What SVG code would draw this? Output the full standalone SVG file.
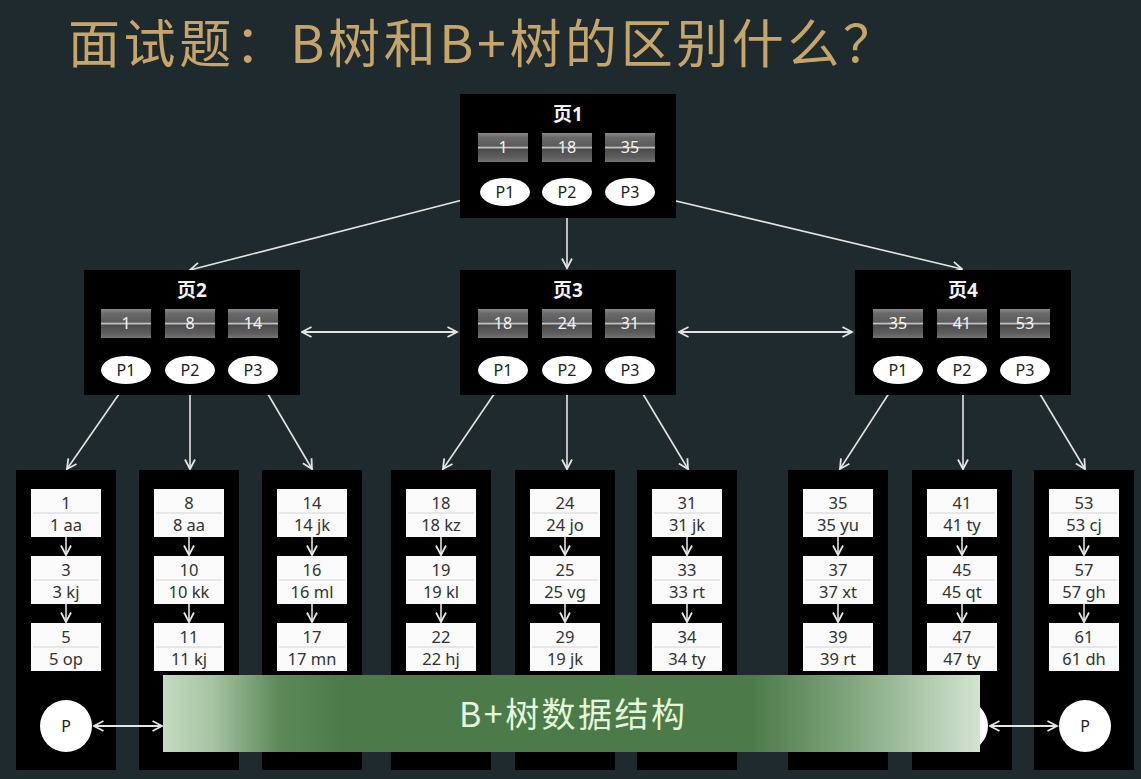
<svg xmlns="http://www.w3.org/2000/svg" width="1141" height="779" viewBox="0 0 1141 779">
<style>
.bg{fill:#1e2a2d}
.page{fill:#000}
.ptitle{font-family:"Noto Sans","Noto Sans CJK SC",sans-serif;font-size:19px;fill:#f2f2f2;text-anchor:middle;font-weight:bold}
.key{fill:url(#keyGrad)}
.keyt{font-family:"Noto Sans",sans-serif;font-size:16px;fill:#f4f4f4;text-anchor:middle}
.ell{fill:#fff}
.ellt{font-family:"Noto Sans",sans-serif;font-size:16px;fill:#222;text-anchor:middle}
.col{fill:#000}
.rec{fill:#fafafa}
.sep{stroke:#d4d4d4;stroke-width:1}
.rect{font-family:"Noto Sans",sans-serif;font-size:16.5px;fill:#333;text-anchor:middle}
.arr{stroke:#e4e4e4;stroke-width:1.6;fill:none;marker-end:url(#ah)}
.darr{stroke:#e4e4e4;stroke-width:2.2;fill:none;marker-end:url(#ah);marker-start:url(#ah)}
.circ{fill:#fff}
</style>
<defs>
<linearGradient id="keyGrad" x1="0" y1="0" x2="0" y2="1">
<stop offset="0" stop-color="#8a8a8a"/>
<stop offset="0.15" stop-color="#6a6a6a"/>
<stop offset="0.45" stop-color="#5a5a5a"/>
<stop offset="0.5" stop-color="#c4c4c4"/>
<stop offset="0.56" stop-color="#4c4c4c"/>
<stop offset="0.85" stop-color="#5e5e5e"/>
<stop offset="1" stop-color="#767676"/>
</linearGradient>
<linearGradient id="banGrad" x1="0" y1="0" x2="1" y2="0">
<stop offset="0" stop-color="#c4dac2"/>
<stop offset="0.06" stop-color="#a6c4a3"/>
<stop offset="0.14" stop-color="#5e8a5a"/>
<stop offset="0.22" stop-color="#4c7b49"/>
<stop offset="0.72" stop-color="#4c7b49"/>
<stop offset="0.84" stop-color="#7fa57c"/>
<stop offset="1" stop-color="#d2e4d0"/>
</linearGradient>
<marker id="ah" viewBox="0 0 12 12" refX="10.5" refY="6" markerWidth="12" markerHeight="12" markerUnits="userSpaceOnUse" orient="auto-start-reverse">
<path d="M1,1 L10.5,6 L1,11" stroke="#e4e4e4" stroke-width="1.8" fill="none"/>
</marker>
</defs>
<rect class="bg" x="0" y="0" width="1141" height="779"/>
<text x="68" y="63" font-family="'Noto Sans CJK SC','Noto Sans',sans-serif" font-size="52" fill="#c6a56b" textLength="827" lengthAdjust="spacing">面试题：B树和B+树的区别什么？</text>

<g id="connectors">
<line class="arr" x1="478" y1="196" x2="190" y2="270"/>
<line class="arr" x1="567" y1="206" x2="567" y2="268"/>
<line class="arr" x1="655" y1="196" x2="962" y2="269"/>
<line class="darr" x1="302" y1="332" x2="457" y2="332"/>
<line class="darr" x1="679" y1="332" x2="852" y2="332"/>
<line class="arr" x1="126" y1="384" x2="67" y2="469"/>
<line class="arr" x1="190" y1="386" x2="190" y2="469"/>
<line class="arr" x1="262" y1="384" x2="312" y2="469"/>
<line class="arr" x1="501" y1="384" x2="443" y2="469"/>
<line class="arr" x1="567" y1="386" x2="567" y2="469"/>
<line class="arr" x1="637" y1="384" x2="688" y2="469"/>
<line class="arr" x1="895" y1="384" x2="840" y2="469"/>
<line class="arr" x1="963" y1="386" x2="963" y2="469"/>
<line class="arr" x1="1034" y1="384" x2="1085" y2="469"/>
</g>

<g id="page1">
<rect class="page" x="460" y="94" width="216" height="124"/>
<text class="ptitle" x="568" y="121">页1</text>
<rect class="key" x="478" y="133" width="50" height="29"/><text class="keyt" x="503" y="153">1</text>
<rect class="key" x="542" y="133" width="50" height="29"/><text class="keyt" x="567" y="153">18</text>
<rect class="key" x="605" y="133" width="50" height="29"/><text class="keyt" x="630" y="153">35</text>
<ellipse class="ell" cx="505" cy="192" rx="25" ry="14"/><text class="ellt" x="505" y="198">P1</text>
<ellipse class="ell" cx="567" cy="192" rx="25" ry="14"/><text class="ellt" x="567" y="198">P2</text>
<ellipse class="ell" cx="630" cy="192" rx="25" ry="14"/><text class="ellt" x="630" y="198">P3</text>
</g>

<g id="page2">
<rect class="page" x="84" y="270" width="216" height="125"/>
<text class="ptitle" x="192" y="297">页2</text>
<rect class="key" x="101" y="309" width="50" height="29"/><text class="keyt" x="126" y="329">1</text>
<rect class="key" x="165" y="309" width="50" height="29"/><text class="keyt" x="190" y="329">8</text>
<rect class="key" x="228" y="309" width="50" height="29"/><text class="keyt" x="253" y="329">14</text>
<ellipse class="ell" cx="126" cy="370" rx="25" ry="14"/><text class="ellt" x="126" y="376">P1</text>
<ellipse class="ell" cx="190" cy="370" rx="25" ry="14"/><text class="ellt" x="190" y="376">P2</text>
<ellipse class="ell" cx="253" cy="370" rx="25" ry="14"/><text class="ellt" x="253" y="376">P3</text>
</g>

<g id="page3">
<rect class="page" x="460" y="270" width="216" height="125"/>
<text class="ptitle" x="568" y="297">页3</text>
<rect class="key" x="478" y="309" width="50" height="29"/><text class="keyt" x="503" y="329">18</text>
<rect class="key" x="542" y="309" width="50" height="29"/><text class="keyt" x="567" y="329">24</text>
<rect class="key" x="605" y="309" width="50" height="29"/><text class="keyt" x="630" y="329">31</text>
<ellipse class="ell" cx="503" cy="370" rx="25" ry="14"/><text class="ellt" x="503" y="376">P1</text>
<ellipse class="ell" cx="567" cy="370" rx="25" ry="14"/><text class="ellt" x="567" y="376">P2</text>
<ellipse class="ell" cx="630" cy="370" rx="25" ry="14"/><text class="ellt" x="630" y="376">P3</text>
</g>

<g id="page4">
<rect class="page" x="855" y="270" width="216" height="125"/>
<text class="ptitle" x="963" y="297">页4</text>
<rect class="key" x="873" y="309" width="50" height="29"/><text class="keyt" x="898" y="329">35</text>
<rect class="key" x="937" y="309" width="50" height="29"/><text class="keyt" x="962" y="329">41</text>
<rect class="key" x="1000" y="309" width="50" height="29"/><text class="keyt" x="1025" y="329">53</text>
<ellipse class="ell" cx="898" cy="370" rx="25" ry="14"/><text class="ellt" x="898" y="376">P1</text>
<ellipse class="ell" cx="962" cy="370" rx="25" ry="14"/><text class="ellt" x="962" y="376">P2</text>
<ellipse class="ell" cx="1025" cy="370" rx="25" ry="14"/><text class="ellt" x="1025" y="376">P3</text>
</g>

<g id="leaf1">
<rect class="col" x="16" y="470" width="100" height="300"/>
<rect class="rec" x="31" y="489" width="70" height="48"/><line class="sep" x1="33" y1="513" x2="99" y2="513"/><text class="rect" x="66" y="509">1</text><text class="rect" x="66" y="531">1 aa</text>
<rect class="rec" x="31" y="556" width="70" height="48"/><line class="sep" x1="33" y1="580" x2="99" y2="580"/><text class="rect" x="66" y="576">3</text><text class="rect" x="66" y="598">3 kj</text>
<rect class="rec" x="31" y="623" width="70" height="48"/><line class="sep" x1="33" y1="647" x2="99" y2="647"/><text class="rect" x="66" y="643">5</text><text class="rect" x="66" y="665">5 op</text>
<line class="arr" x1="66" y1="537" x2="66" y2="555"/><line class="arr" x1="66" y1="604" x2="66" y2="622"/>
<circle class="circ" cx="66" cy="726" r="26"/><text class="ellt" x="66" y="732">P</text>
</g>

<g id="leaf2">
<rect class="col" x="139" y="470" width="100" height="300"/>
<rect class="rec" x="154" y="489" width="70" height="48"/><line class="sep" x1="156" y1="513" x2="222" y2="513"/><text class="rect" x="189" y="509">8</text><text class="rect" x="189" y="531">8 aa</text>
<rect class="rec" x="154" y="556" width="70" height="48"/><line class="sep" x1="156" y1="580" x2="222" y2="580"/><text class="rect" x="189" y="576">10</text><text class="rect" x="189" y="598">10 kk</text>
<rect class="rec" x="154" y="623" width="70" height="48"/><line class="sep" x1="156" y1="647" x2="222" y2="647"/><text class="rect" x="189" y="643">11</text><text class="rect" x="189" y="665">11 kj</text>
<line class="arr" x1="189" y1="537" x2="189" y2="555"/><line class="arr" x1="189" y1="604" x2="189" y2="622"/>
</g>

<g id="leaf3">
<rect class="col" x="262" y="470" width="100" height="300"/>
<rect class="rec" x="277" y="489" width="70" height="48"/><line class="sep" x1="279" y1="513" x2="345" y2="513"/><text class="rect" x="312" y="509">14</text><text class="rect" x="312" y="531">14 jk</text>
<rect class="rec" x="277" y="556" width="70" height="48"/><line class="sep" x1="279" y1="580" x2="345" y2="580"/><text class="rect" x="312" y="576">16</text><text class="rect" x="312" y="598">16 ml</text>
<rect class="rec" x="277" y="623" width="70" height="48"/><line class="sep" x1="279" y1="647" x2="345" y2="647"/><text class="rect" x="312" y="643">17</text><text class="rect" x="312" y="665">17 mn</text>
<line class="arr" x1="312" y1="537" x2="312" y2="555"/><line class="arr" x1="312" y1="604" x2="312" y2="622"/>
</g>

<g id="leaf4">
<rect class="col" x="391" y="470" width="100" height="300"/>
<rect class="rec" x="406" y="489" width="70" height="48"/><line class="sep" x1="408" y1="513" x2="474" y2="513"/><text class="rect" x="441" y="509">18</text><text class="rect" x="441" y="531">18 kz</text>
<rect class="rec" x="406" y="556" width="70" height="48"/><line class="sep" x1="408" y1="580" x2="474" y2="580"/><text class="rect" x="441" y="576">19</text><text class="rect" x="441" y="598">19 kl</text>
<rect class="rec" x="406" y="623" width="70" height="48"/><line class="sep" x1="408" y1="647" x2="474" y2="647"/><text class="rect" x="441" y="643">22</text><text class="rect" x="441" y="665">22 hj</text>
<line class="arr" x1="441" y1="537" x2="441" y2="555"/><line class="arr" x1="441" y1="604" x2="441" y2="622"/>
</g>

<g id="leaf5">
<rect class="col" x="515" y="470" width="100" height="300"/>
<rect class="rec" x="530" y="489" width="70" height="48"/><line class="sep" x1="532" y1="513" x2="598" y2="513"/><text class="rect" x="565" y="509">24</text><text class="rect" x="565" y="531">24 jo</text>
<rect class="rec" x="530" y="556" width="70" height="48"/><line class="sep" x1="532" y1="580" x2="598" y2="580"/><text class="rect" x="565" y="576">25</text><text class="rect" x="565" y="598">25 vg</text>
<rect class="rec" x="530" y="623" width="70" height="48"/><line class="sep" x1="532" y1="647" x2="598" y2="647"/><text class="rect" x="565" y="643">29</text><text class="rect" x="565" y="665">19 jk</text>
<line class="arr" x1="565" y1="537" x2="565" y2="555"/><line class="arr" x1="565" y1="604" x2="565" y2="622"/>
</g>

<g id="leaf6">
<rect class="col" x="637" y="470" width="100" height="300"/>
<rect class="rec" x="652" y="489" width="70" height="48"/><line class="sep" x1="654" y1="513" x2="720" y2="513"/><text class="rect" x="687" y="509">31</text><text class="rect" x="687" y="531">31 jk</text>
<rect class="rec" x="652" y="556" width="70" height="48"/><line class="sep" x1="654" y1="580" x2="720" y2="580"/><text class="rect" x="687" y="576">33</text><text class="rect" x="687" y="598">33 rt</text>
<rect class="rec" x="652" y="623" width="70" height="48"/><line class="sep" x1="654" y1="647" x2="720" y2="647"/><text class="rect" x="687" y="643">34</text><text class="rect" x="687" y="665">34 ty</text>
<line class="arr" x1="687" y1="537" x2="687" y2="555"/><line class="arr" x1="687" y1="604" x2="687" y2="622"/>
</g>

<g id="leaf7">
<rect class="col" x="788" y="470" width="100" height="300"/>
<rect class="rec" x="803" y="489" width="70" height="48"/><line class="sep" x1="805" y1="513" x2="871" y2="513"/><text class="rect" x="838" y="509">35</text><text class="rect" x="838" y="531">35 yu</text>
<rect class="rec" x="803" y="556" width="70" height="48"/><line class="sep" x1="805" y1="580" x2="871" y2="580"/><text class="rect" x="838" y="576">37</text><text class="rect" x="838" y="598">37 xt</text>
<rect class="rec" x="803" y="623" width="70" height="48"/><line class="sep" x1="805" y1="647" x2="871" y2="647"/><text class="rect" x="838" y="643">39</text><text class="rect" x="838" y="665">39 rt</text>
<line class="arr" x1="838" y1="537" x2="838" y2="555"/><line class="arr" x1="838" y1="604" x2="838" y2="622"/>
</g>

<g id="leaf8">
<rect class="col" x="912" y="470" width="100" height="300"/>
<rect class="rec" x="927" y="489" width="70" height="48"/><line class="sep" x1="929" y1="513" x2="995" y2="513"/><text class="rect" x="962" y="509">41</text><text class="rect" x="962" y="531">41 ty</text>
<rect class="rec" x="927" y="556" width="70" height="48"/><line class="sep" x1="929" y1="580" x2="995" y2="580"/><text class="rect" x="962" y="576">45</text><text class="rect" x="962" y="598">45 qt</text>
<rect class="rec" x="927" y="623" width="70" height="48"/><line class="sep" x1="929" y1="647" x2="995" y2="647"/><text class="rect" x="962" y="643">47</text><text class="rect" x="962" y="665">47 ty</text>
<line class="arr" x1="962" y1="537" x2="962" y2="555"/><line class="arr" x1="962" y1="604" x2="962" y2="622"/>
<circle class="circ" cx="962" cy="726" r="26"/>
</g>

<g id="leaf9">
<rect class="col" x="1034" y="470" width="100" height="300"/>
<rect class="rec" x="1049" y="489" width="70" height="48"/><line class="sep" x1="1051" y1="513" x2="1117" y2="513"/><text class="rect" x="1084" y="509">53</text><text class="rect" x="1084" y="531">53 cj</text>
<rect class="rec" x="1049" y="556" width="70" height="48"/><line class="sep" x1="1051" y1="580" x2="1117" y2="580"/><text class="rect" x="1084" y="576">57</text><text class="rect" x="1084" y="598">57 gh</text>
<rect class="rec" x="1049" y="623" width="70" height="48"/><line class="sep" x1="1051" y1="647" x2="1117" y2="647"/><text class="rect" x="1084" y="643">61</text><text class="rect" x="1084" y="665">61 dh</text>
<line class="arr" x1="1084" y1="537" x2="1084" y2="555"/><line class="arr" x1="1084" y1="604" x2="1084" y2="622"/>
<circle class="circ" cx="1085" cy="726" r="26"/><text class="ellt" x="1085" y="732">P</text>
</g>

<g id="leaf-links">
<line class="darr" x1="94" y1="726" x2="162" y2="726"/>
<line class="darr" x1="990" y1="726" x2="1057" y2="726"/>
</g>

<g id="banner">
<rect x="163" y="675" width="817" height="77" fill="url(#banGrad)"/>
<text x="572" y="727" font-family="'Noto Sans CJK SC','Noto Sans',sans-serif" font-size="34" fill="#e4f5dc" text-anchor="middle" textLength="226" lengthAdjust="spacing">B+树数据结构</text>
</g>
</svg>
